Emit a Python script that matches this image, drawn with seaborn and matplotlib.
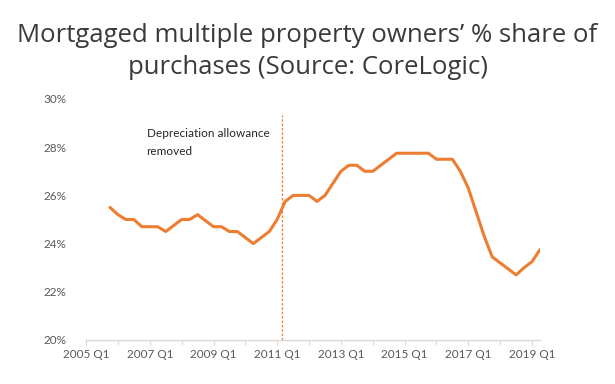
import numpy as np
import pandas as pd
import matplotlib
matplotlib.use("Agg")
import matplotlib.pyplot as plt
import seaborn as sns

# quarterly series, 2005 Q4 .. 2019 Q2
first_year, first_q = 2005, 4
share = [25.5, 25.2, 25.0, 25.0, 24.7, 24.7, 24.7, 24.5, 24.75, 25.0,
         25.0, 25.2, 24.95, 24.7, 24.7, 24.5, 24.5, 24.25, 24.0, 24.25,
         24.5, 25.0, 25.75, 26.0, 26.0, 26.0, 25.75, 26.0, 26.5, 27.0,
         27.25, 27.25, 27.0, 27.0, 27.25, 27.5, 27.75, 27.75, 27.75, 27.75,
         27.75, 27.5, 27.5, 27.5, 27.0, 26.3, 25.3, 24.3, 23.45, 23.2,
         22.95, 22.7, 23.0, 23.25, 23.75]
tick_labels = ["2005 Q1", "2007 Q1", "2009 Q1", "2011 Q1",
               "2013 Q1", "2015 Q1", "2017 Q1", "2019 Q1"]
event_pos = 24.6   # quarters after 2005 Q1
event_text = "Depreciation allowance\nremoved"
title = "Mortgaged multiple property owners\u2019 % share of\npurchases (Source: CoreLogic)"

start = (first_q - 1)
df = pd.DataFrame({"q": np.arange(start, start + len(share)), "share": share})

sns.set_theme(style="white")
plt.rcParams['font.family'] = ['Lato', 'DejaVu Sans']

orange = "#ED7D31"
grey = "#595959"

fig = plt.figure(figsize=(6.15, 3.84), dpi=100)
ax = fig.add_axes([0.14, 0.1146, 0.738, 0.6276])
sns.lineplot(data=df, x="q", y="share", ax=ax, color=orange, linewidth=2.2,
             solid_joinstyle="round", solid_capstyle="round")
ax.vlines(event_pos, 20, 29.35, colors=orange, linestyles=(0, (2, 1.5)), linewidth=0.9)
ax.text(start + 4.6, 28.2, event_text, fontsize=8.5, color="#262626",
        va="center", ha="left", linespacing=1.85)

ax.set_xlim(0, start + len(share) - 1)
ax.set_ylim(20, 30)
ax.set_yticks(np.arange(20, 31, 2))
ax.set_yticklabels([f"{v}%" for v in range(20, 31, 2)])
ax.set_xticks(np.arange(0, 57, 8))
ax.set_xticklabels(tick_labels)
ax.set_xticks(np.arange(0, 58, 4), minor=True)
ax.tick_params(axis="x", which="both", bottom=True, length=3.5, width=0.8,
               color="#D9D9D9", labelsize=8.5, labelcolor=grey, pad=3)
ax.tick_params(axis="y", left=False, labelsize=8.5, labelcolor=grey, pad=8)
ax.set_xlabel("")
ax.set_ylabel("")
for s in ["top", "right", "left"]:
    ax.spines[s].set_visible(False)
ax.spines["bottom"].set_color("#D9D9D9")
ax.spines["bottom"].set_linewidth(1)

fig.text(0.5, 0.866, title, ha="center", va="center", fontsize=18.5,
         color="#3a3a3a", family=["Open Sans", "DejaVu Sans"], weight="medium",
         linespacing=1.4)

fig.savefig("out.png", dpi=100)
